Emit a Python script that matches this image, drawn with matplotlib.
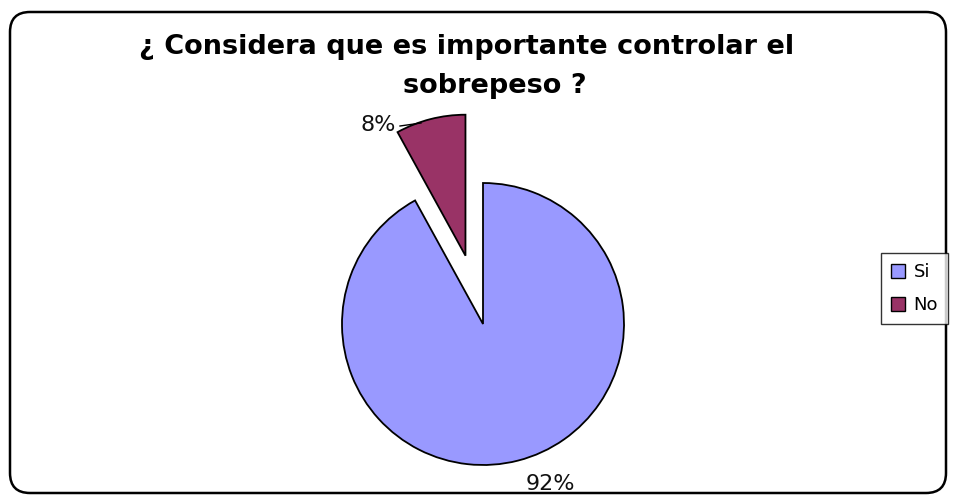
import numpy as np
import matplotlib
matplotlib.use("Agg")
import matplotlib.pyplot as plt
from matplotlib.patches import FancyBboxPatch, Patch

labels = ["Si", "No"]
values = [92, 8]
colors = ["#9999FF", "#993366"]
title_1 = "¿ Considera que es importante controlar el"
title_2 = "sobrepeso ?"

H = 496  # work in pixel units, y flipped
fig = plt.figure(figsize=(9.54, 4.96), dpi=100)
ax = fig.add_axes([0, 0, 1, 1])
ax.set_aspect("equal")
ax.axis("off")

# rounded border like the old excel chart area
border = FancyBboxPatch((10, H - 493), 936, 481, boxstyle="round,pad=0,rounding_size=20",
                        fill=False, edgecolor="black", linewidth=1.8)
ax.add_patch(border)

cx, cy, r = 483, H - 324, 141
explode = [0, 0.5 * r]
wedges, texts = ax.pie(values, colors=colors, explode=explode, startangle=90,
                       counterclock=False, center=(cx, cy), radius=r,
                       labels=[f"{v}%" for v in values],
                       wedgeprops=dict(edgecolor="black", linewidth=1.3),
                       textprops=dict(fontsize=16, color="#111111"))
ax.set_xlim(0, 954)
ax.set_ylim(0, H)

# put the percentage labels where excel had them
texts[0].set_position((550, H - 484))
texts[0].set_ha("center")
texts[0].set_va("center")
texts[1].set_position((378, H - 125))
texts[1].set_ha("center")
texts[1].set_va("center")
ax.plot([400, 421], [H - 126, H - 123], color="black", lw=1)

ax.text(467, H - 54, title_1, ha="center", va="baseline", fontsize=19.5, fontweight="bold")
ax.text(495, H - 93, title_2, ha="center", va="baseline", fontsize=19.5, fontweight="bold")

handles = [Patch(facecolor=c, edgecolor="black", label=l) for c, l in zip(colors, labels)]
leg = fig.legend(handles=handles, loc="upper left", bbox_to_anchor=(881 / 954, 1 - 253 / H),
                 frameon=True, fancybox=False, edgecolor="black", fontsize=13,
                 handlelength=0.8, handleheight=0.8, handletextpad=0.45,
                 borderpad=0.55, labelspacing=0.85, borderaxespad=0)
leg.get_frame().set_linewidth(1)

fig.savefig("out.png", dpi=100)
